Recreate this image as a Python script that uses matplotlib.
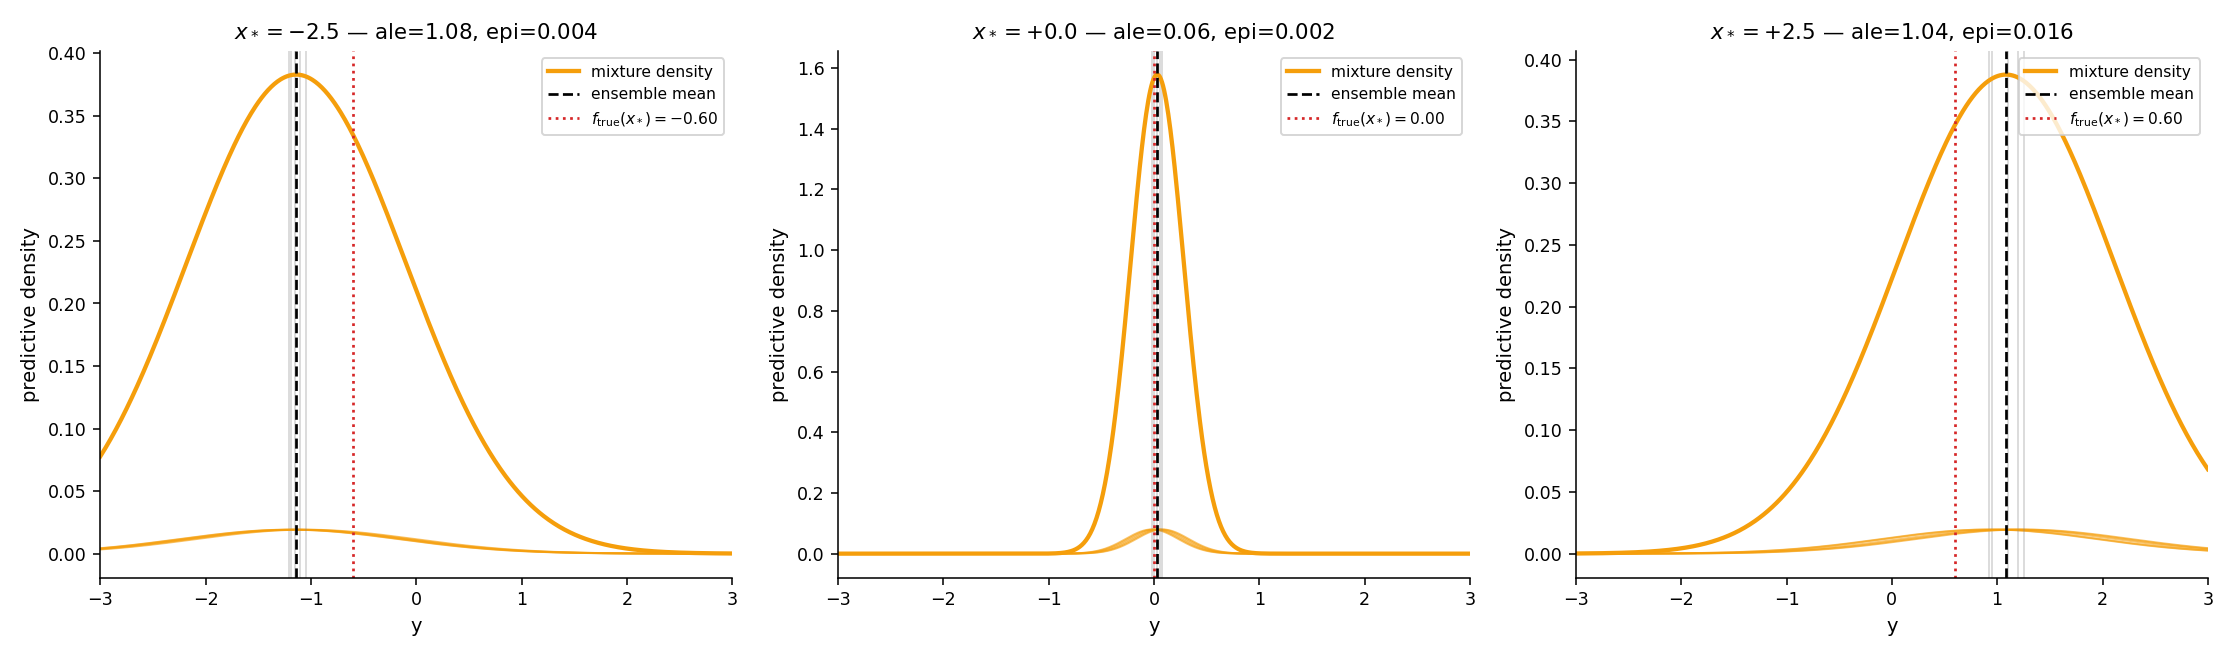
import numpy as np
import matplotlib
matplotlib.use("Agg")
import matplotlib.pyplot as plt

x_stars = [-2.5, 0.0, 2.5]
ale = [1.08, 0.06, 1.04]
epi = [0.004, 0.002, 0.016]
f_true = [-0.60, 0.00, 0.60]
member_means = [
    [-1.21, -1.19, -1.15, -1.10, -1.05],
    [-0.02, 0.00, 0.03, 0.06, 0.08],
    [0.92, 0.95, 1.10, 1.20, 1.25],
]
member_sigmas = [
    [1.04, 1.04, 1.04, 1.04, 1.04],
    [0.25, 0.25, 0.25, 0.25, 0.25],
    [1.02, 1.02, 1.02, 1.02, 1.02],
]
member_scale = 0.05

def npdf(y, m, s):
    return np.exp(-0.5 * ((y - m) / s) ** 2) / (np.sqrt(2 * np.pi) * s)

y = np.linspace(-3, 3, 600)
fig, axes = plt.subplots(1, 3, figsize=(15.96, 4.693), dpi=140)
orange = "#f59e0b"
for i, ax in enumerate(axes):
    mus = np.array(member_means[i]); sgs = np.array(member_sigmas[i])
    mix = np.mean([npdf(y, m, s) for m, s in zip(mus, sgs)], axis=0)
    for m, s in zip(mus, sgs):
        ax.plot(y, member_scale * npdf(y, m, s), color=orange, lw=1.0, alpha=0.6)
        ax.axvline(m, color="grey", lw=0.8, alpha=0.35)
    ax.plot(y, mix, color=orange, lw=2.2, label="mixture density")
    ax.axvline(mus.mean(), color="black", ls="--", lw=1.4, label="ensemble mean")
    ax.axvline(f_true[i], color="#d62728", ls=":", lw=1.4,
               label=r"$f_{\rm true}(x_*) = %.2f$" % f_true[i])
    ax.set_xlim(-3, 3)
    ax.set_xlabel("y", fontsize=10)
    ax.set_ylabel("predictive density", fontsize=10)
    ax.set_title(r"$x_* = %+.1f$ — ale=%.2f, epi=%.3f" % (x_stars[i], ale[i], epi[i]), fontsize=11)
    ax.tick_params(labelsize=9)
    ax.spines["top"].set_visible(False); ax.spines["right"].set_visible(False)
    ax.legend(fontsize=8, loc="upper right")
fig.tight_layout()
fig.savefig("out.png", dpi=140)
